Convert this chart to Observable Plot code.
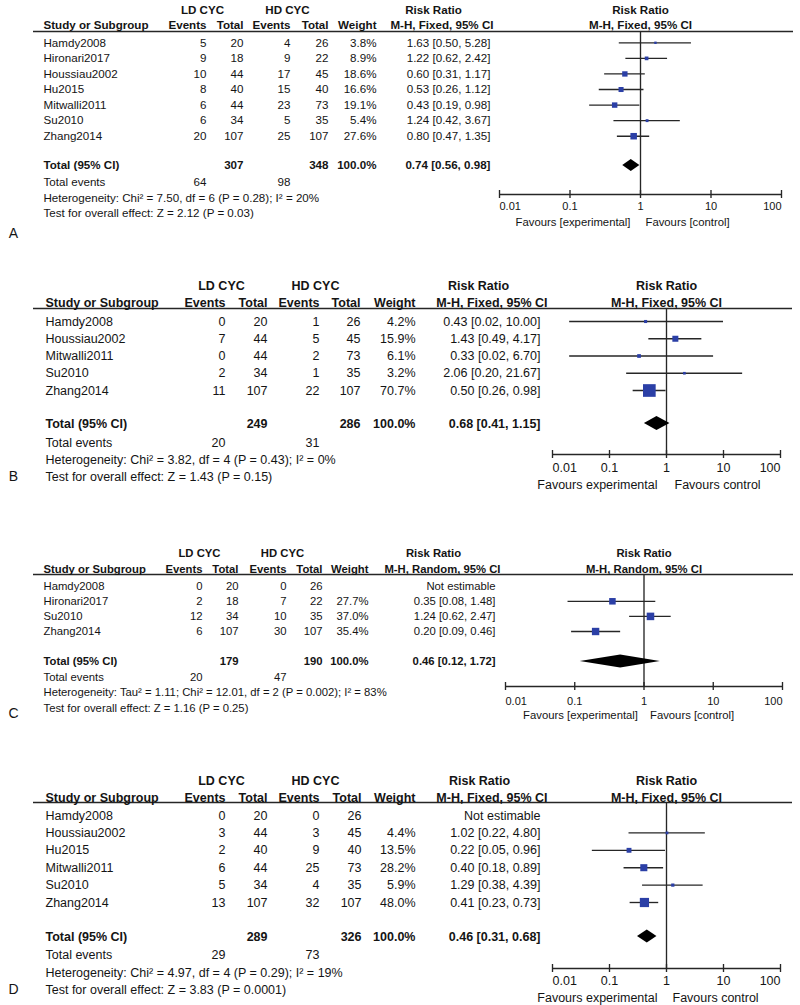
<!DOCTYPE html>
<html><head><meta charset="utf-8">
<script src="https://cdn.jsdelivr.net/npm/d3@7"></script>
<script src="https://cdn.jsdelivr.net/npm/@observablehq/plot@0.6"></script>
<style>
html,body{margin:0;padding:0;background:#fff;}
#root{position:relative;width:800px;height:1005px;overflow:hidden;background:#fff;}
#root svg{position:absolute;left:0;}
</style></head><body><div id="root"></div>
<script>
// ---------- shared axis ----------
const tickValues = [0.01, 0.1, 1, 10, 100];
const tickLabels = ["0.01", "0.1", "1", "10", "100"];

// ---------- Panel A ----------
const studiesA = ["Hamdy2008","Hironari2017","Houssiau2002","Hu2015","Mitwalli2011","Su2010","Zhang2014"];
const ldEventsA = [5, 9, 10, 8, 6, 6, 20];
const ldTotalA  = [20, 18, 44, 40, 44, 34, 107];
const hdEventsA = [4, 9, 17, 15, 23, 5, 25];
const hdTotalA  = [26, 22, 45, 40, 73, 35, 107];
const weightA   = [3.8, 8.9, 18.6, 16.6, 19.1, 5.4, 27.6];
const rrA = [1.63, 1.22, 0.60, 0.53, 0.43, 1.24, 0.80];
const loA = [0.50, 0.62, 0.31, 0.26, 0.19, 0.42, 0.47];
const hiA = [5.28, 2.42, 1.17, 1.12, 0.98, 3.67, 1.35];
const totalsA = [307, 348];
const totalEventsA = [64, 98];
const pooledA = [0.74, 0.56, 0.98];
const methodA = "M-H, Fixed, 95% CI";
const hetA = "Heterogeneity: Chi\u00b2 = 7.50, df = 6 (P = 0.28); I\u00b2 = 20%";
const testA = "Test for overall effect: Z = 2.12 (P = 0.03)";
const favoursA = ["Favours [experimental]", "Favours [control]"];

// ---------- Panel B ----------
const studiesB = ["Hamdy2008","Houssiau2002","Mitwalli2011","Su2010","Zhang2014"];
const ldEventsB = [0, 7, 0, 2, 11];
const ldTotalB  = [20, 44, 44, 34, 107];
const hdEventsB = [1, 5, 2, 1, 22];
const hdTotalB  = [26, 45, 73, 35, 107];
const weightB   = [4.2, 15.9, 6.1, 3.2, 70.7];
const rrB = [0.43, 1.43, 0.33, 2.06, 0.50];
const loB = [0.02, 0.49, 0.02, 0.20, 0.26];
const hiB = [10.00, 4.17, 6.70, 21.67, 0.98];
const totalsB = [249, 286];
const totalEventsB = [20, 31];
const pooledB = [0.68, 0.41, 1.15];
const methodB = "M-H, Fixed, 95% CI";
const hetB = "Heterogeneity: Chi\u00b2 = 3.82, df = 4 (P = 0.43); I\u00b2 = 0%";
const testB = "Test for overall effect: Z = 1.43 (P = 0.15)";
const favoursB = ["Favours experimental", "Favours control"];

// ---------- Panel C ----------
const studiesC = ["Hamdy2008","Hironari2017","Su2010","Zhang2014"];
const ldEventsC = [0, 2, 12, 6];
const ldTotalC  = [20, 18, 34, 107];
const hdEventsC = [0, 7, 10, 30];
const hdTotalC  = [26, 22, 35, 107];
const weightC   = [null, 27.7, 37.0, 35.4];
const rrC = [null, 0.35, 1.24, 0.20];
const loC = [null, 0.08, 0.62, 0.09];
const hiC = [null, 1.48, 2.47, 0.46];
const totalsC = [179, 190];
const totalEventsC = [20, 47];
const pooledC = [0.46, 0.12, 1.72];
const methodC = "M-H, Random, 95% CI";
const hetC = "Heterogeneity: Tau\u00b2 = 1.11; Chi\u00b2 = 12.01, df = 2 (P = 0.002); I\u00b2 = 83%";
const testC = "Test for overall effect: Z = 1.16 (P = 0.25)";
const favoursC = ["Favours [experimental]", "Favours [control]"];

// ---------- Panel D ----------
const studiesD = ["Hamdy2008","Houssiau2002","Hu2015","Mitwalli2011","Su2010","Zhang2014"];
const ldEventsD = [0, 3, 2, 6, 5, 13];
const ldTotalD  = [20, 44, 40, 44, 34, 107];
const hdEventsD = [0, 3, 9, 25, 4, 32];
const hdTotalD  = [26, 45, 40, 73, 35, 107];
const weightD   = [null, 4.4, 13.5, 28.2, 5.9, 48.0];
const rrD = [null, 1.02, 0.22, 0.40, 1.29, 0.41];
const loD = [null, 0.22, 0.05, 0.18, 0.38, 0.23];
const hiD = [null, 4.80, 0.96, 0.89, 4.39, 0.73];
const totalsD = [289, 326];
const totalEventsD = [29, 73];
const pooledD = [0.46, 0.31, 0.68];
const methodD = "M-H, Fixed, 95% CI";
const hetD = "Heterogeneity: Chi\u00b2 = 4.97, df = 4 (P = 0.29); I\u00b2 = 19%";
const testD = "Test for overall effect: Z = 3.83 (P = 0.0001)";
const favoursD = ["Favours experimental", "Favours control"];

const panelLetters = ["A", "B", "C", "D"];

// ---------- layout (pixels) ----------
const layoutA = {top:0, h:240, first:42.3, s:15.57, ml:33, mr:7, xr:[499,781], fs:11.6, fsAxis:11, fsFav:11.3,
  yGroup:10, yHead:25, yLine:31, yTotal:165, yTev:182, yHet:198, yTest:213, yAxis:194, yTick:206, yFav:222, yLetter:233,
  cName:43, cLdE:206, cLdT:243, cHdE:290, cHdT:328, cW:376, cRR:490, cRRh:493, cRRc:433, cLD:202, cHD:287,
  favL:-10, favR:5, dia:6, rmax:7};
const layoutB = {top:240, h:260, first:321, s:17.25, ml:33, mr:8, xr:[552,780], fs:12.5, fsAxis:12.5, fsFav:12.5,
  yGroup:285, yHead:302, yLine:308, yTotal:423, yTev:442, yHet:459, yTest:476, yAxis:454, yTick:467, yFav:484, yLetter:476,
  cName:45, cLdE:225, cLdT:267, cHdE:319, cHdT:360, cW:415, cRR:540, cRRh:547, cRRc:478, cLD:221, cHD:315,
  favL:-9, favR:8, dia:7, rmax:8.5};
const layoutC = {top:500, h:240, first:585.7, s:15.1, ml:33, mr:7, xr:[505,782], fs:11.3, fsAxis:11, fsFav:11.3,
  yGroup:553, yHead:569, yLine:574, yTotal:661, yTev:677, yHet:692, yTest:708, yAxis:686, yTick:701, yFav:715, yLetter:713,
  cName:43, cLdE:202, cLdT:238, cHdE:286, cHdT:322, cW:368, cRR:495, cRRh:500, cRRc:433, cLD:199, cHD:282,
  favL:-6, favR:6, dia:6.5, rmax:7};
const layoutD = {top:740, h:265, first:815, s:17.4, ml:33, mr:8, xr:[552,780], fs:12.5, fsAxis:12.5, fsFav:12.5,
  yGroup:780, yHead:797, yLine:802, yTotal:936, yTev:954, yHet:972, yTest:989, yAxis:968, yTick:980, yFav:997, yLetter:989,
  cName:45, cLdE:225, cLdT:267, cHdE:319, cHdT:361, cW:415, cRR:540, cRRh:547, cRRc:479, cLD:221, cHD:315,
  favL:-9, favR:6, dia:6.5, rmax:7.5};

const panels = [
  {studies:studiesA, ldE:ldEventsA, ldT:ldTotalA, hdE:hdEventsA, hdT:hdTotalA, w:weightA, rr:rrA, lo:loA, hi:hiA,
   totals:totalsA, tev:totalEventsA, pooled:pooledA, method:methodA, het:hetA, test:testA, fav:favoursA, letter:panelLetters[0], L:layoutA},
  {studies:studiesB, ldE:ldEventsB, ldT:ldTotalB, hdE:hdEventsB, hdT:hdTotalB, w:weightB, rr:rrB, lo:loB, hi:hiB,
   totals:totalsB, tev:totalEventsB, pooled:pooledB, method:methodB, het:hetB, test:testB, fav:favoursB, letter:panelLetters[1], L:layoutB},
  {studies:studiesC, ldE:ldEventsC, ldT:ldTotalC, hdE:hdEventsC, hdT:hdTotalC, w:weightC, rr:rrC, lo:loC, hi:hiC,
   totals:totalsC, tev:totalEventsC, pooled:pooledC, method:methodC, het:hetC, test:testC, fav:favoursC, letter:panelLetters[2], L:layoutC},
  {studies:studiesD, ldE:ldEventsD, ldT:ldTotalD, hdE:hdEventsD, hdT:hdTotalD, w:weightD, rr:rrD, lo:loD, hi:hiD,
   totals:totalsD, tev:totalEventsD, pooled:pooledD, method:methodD, het:hetD, test:testD, fav:favoursD, letter:panelLetters[3], L:layoutD}
];

const INK = "#141414", LINE = "#262626", BLUE = "#2b3fa6";
const FONT = "'Liberation Sans', Arial, Helvetica, sans-serif";

function buildPanel(D) {
  const L = D.L;
  const Y = py => (py - L.first) / L.s;
  const f2 = v => v.toFixed(2);
  const rows = D.studies.map((name, i) => ({
    row: i, name,
    ldE: String(D.ldE[i]), ldT: String(D.ldT[i]), hdE: String(D.hdE[i]), hdT: String(D.hdT[i]),
    wTxt: D.w[i] == null ? "" : D.w[i].toFixed(1) + "%",
    rrTxt: D.rr[i] == null ? "Not estimable" : `${f2(D.rr[i])} [${f2(D.lo[i])}, ${f2(D.hi[i])}]`,
    rr: D.rr[i], lo: D.lo[i], hi: D.hi[i], wt: D.w[i]
  }));
  const est = rows.filter(r => r.rr != null);
  const at = px => px - L.ml;
  const base = {frameAnchor: "left", fontSize: L.fs, fill: INK};
  const cell = (py, text, px, anchor, bold, extra = {}) =>
    Plot.text([{y: Y(py), t: text}], {...base, y: "y", text: "t", dx: at(px), textAnchor: anchor,
      fontWeight: bold ? "bold" : "normal", ...extra});
  const col = (key, px, anchor) => Plot.text(rows, {...base, y: "row", text: key, dx: at(px), textAnchor: anchor});
  const xCell = (py, text, anchor, dx, bold, size) =>
    Plot.text([{x: 1, y: Y(py), t: text}], {x: "x", y: "y", text: "t", textAnchor: anchor, dx, fill: INK,
      fontWeight: bold ? "bold" : "normal", fontSize: size});

  const tr = Y(L.yTotal), h = L.dia / L.s;
  const [pe, pl, ph] = D.pooled;
  const diamond = [{y: tr - h, x1: pe, x2: pe}, {y: tr, x1: pl, x2: ph}, {y: tr + h, x1: pe, x2: pe}];
  const ya = Y(L.yAxis), tk = 4 / L.s;
  const ticks = tickValues.map((v, i) => ({v, label: tickLabels[i], i}));
  const SW = 1.35;

  const marks = [
    Plot.ruleY([Y(L.yLine)], {stroke: LINE, strokeWidth: SW}),
    Plot.ruleX([1], {y1: Y(L.yLine), y2: ya, stroke: LINE, strokeWidth: SW}),
    Plot.ruleY([ya], {x1: tickValues[0], x2: tickValues[tickValues.length - 1], stroke: LINE, strokeWidth: SW}),
    Plot.ruleX(ticks, {x: "v", y1: ya - tk, y2: ya + tk, stroke: LINE, strokeWidth: SW}),
    Plot.text(ticks.filter(d => d.i === 0), {x: "v", y: Y(L.yTick), text: "label", textAnchor: "start", fontSize: L.fsAxis, fill: INK}),
    Plot.text(ticks.filter(d => d.i > 0 && d.i < ticks.length - 1), {x: "v", y: Y(L.yTick), text: "label", textAnchor: "middle", fontSize: L.fsAxis, fill: INK}),
    Plot.text(ticks.filter(d => d.i === ticks.length - 1), {x: "v", y: Y(L.yTick), text: "label", textAnchor: "end", fontSize: L.fsAxis, fill: INK}),
    xCell(L.yFav, D.fav[0], "end", L.favL, false, L.fsFav),
    xCell(L.yFav, D.fav[1], "start", L.favR, false, L.fsFav),
    Plot.ruleY(est, {y: "row", x1: "lo", x2: "hi", stroke: LINE, strokeWidth: SW}),
    Plot.dot(est, {x: "rr", y: "row", r: "wt", symbol: "square", fill: BLUE, stroke: null}),
    Plot.areaX(diamond, {y: "y", x1: "x1", x2: "x2", fill: "black", curve: "linear"}),
    cell(L.yGroup, "LD CYC", L.cLD, "middle", true),
    cell(L.yGroup, "HD CYC", L.cHD, "middle", true),
    cell(L.yGroup, "Risk Ratio", L.cRRc, "middle", true),
    xCell(L.yGroup, "Risk Ratio", "middle", 0, true, L.fs),
    cell(L.yHead, "Study or Subgroup", L.cName, "start", true),
    cell(L.yHead, "Events", L.cLdE, "end", true),
    cell(L.yHead, "Total", L.cLdT, "end", true),
    cell(L.yHead, "Events", L.cHdE, "end", true),
    cell(L.yHead, "Total", L.cHdT, "end", true),
    cell(L.yHead, "Weight", L.cW, "end", true),
    cell(L.yHead, D.method, L.cRRh, "end", true),
    xCell(L.yHead, D.method, "middle", 0, true, L.fs),
    col("name", L.cName, "start"),
    col("ldE", L.cLdE, "end"),
    col("ldT", L.cLdT, "end"),
    col("hdE", L.cHdE, "end"),
    col("hdT", L.cHdT, "end"),
    col("wTxt", L.cW, "end"),
    col("rrTxt", L.cRR, "end"),
    cell(L.yTotal, "Total (95% CI)", L.cName, "start", true),
    cell(L.yTotal, String(D.totals[0]), L.cLdT, "end", true),
    cell(L.yTotal, String(D.totals[1]), L.cHdT, "end", true),
    cell(L.yTotal, "100.0%", L.cW, "end", true),
    cell(L.yTotal, `${f2(pe)} [${f2(pl)}, ${f2(ph)}]`, L.cRR, "end", true),
    cell(L.yTev, "Total events", L.cName, "start", false),
    cell(L.yTev, String(D.tev[0]), L.cLdE, "end", false),
    cell(L.yTev, String(D.tev[1]), L.cHdE, "end", false),
    cell(L.yHet, D.het, L.cName, "start", false),
    cell(L.yTest, D.test, L.cName, "start", false),
    cell(L.yLetter, D.letter, 13, "middle", false, {fontSize: 14})
  ];

  const svg = Plot.plot({
    width: 800, height: L.h,
    marginLeft: L.ml, marginRight: L.mr, marginTop: 0, marginBottom: 0,
    x: {type: "log", domain: [tickValues[0], tickValues[tickValues.length - 1]], range: L.xr, axis: null},
    y: {type: "linear", domain: [0, 1], range: [L.first - L.top, L.first - L.top + L.s], axis: null},
    r: {type: "sqrt", domain: [0, 100], range: [0, L.rmax]},
    style: {fontFamily: FONT, fontSize: L.fs + "px", color: INK, background: "white", overflow: "visible"},
    marks
  });
  svg.style.top = L.top + "px";
  return svg;
}

const root = document.getElementById("root");
panels.forEach(p => root.append(buildPanel(p)));
</script>
</body></html>
